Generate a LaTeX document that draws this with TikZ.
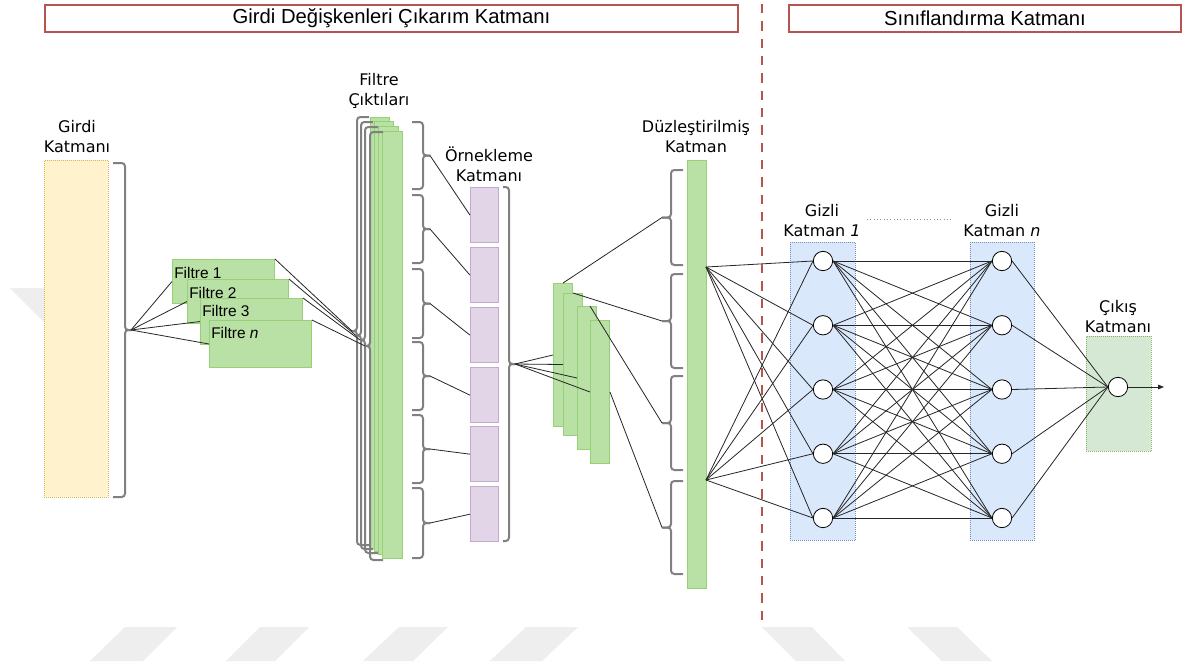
\documentclass[tikz,border=0pt]{standalone}
\usepackage{fontspec}
\setmainfont{Liberation Sans}
\newfontfamily\vfont{DejaVu Sans}
\usetikzlibrary{arrows.meta,calc}

\definecolor{hdred}{RGB}{184,84,80}
\definecolor{inyel}{RGB}{255,242,204}
\definecolor{inyeld}{RGB}{214,182,86}
\definecolor{gfill}{RGB}{185,224,165}
\definecolor{gdraw}{RGB}{151,208,119}
\definecolor{pfill}{RGB}{225,213,231}
\definecolor{pdraw}{RGB}{195,171,208}
\definecolor{bfill}{RGB}{218,232,252}
\definecolor{bdraw}{RGB}{108,142,191}
\definecolor{ofill}{RGB}{213,232,212}
\definecolor{odraw}{RGB}{130,179,102}
\definecolor{brgrey}{RGB}{128,128,128}
\definecolor{wmgrey}{RGB}{238,238,238}

% curly bracket: name, cap x, stem x, tip x, top y, bottom y
\newcommand{\curlyb}[6]{%
  \draw[brc] (#2,#5) -- (#3,#5) -- (#3,{(#5+#6)/2}) -- (#4,{(#5+#6)/2});
  \draw[brc] (#2,#6) -- (#3,#6) -- (#3,{(#5+#6)/2}) -- (#4,{(#5+#6)/2});
  \coordinate (#1) at (#4,{(#5+#6)/2});}

\tikzset{
  sz/.style 2 args={minimum width=#1*0.75pt, minimum height=#2*0.75pt,
    inner sep=0pt, anchor=north west},
  hdr/.style={draw=hdred, line width=1.5pt, fill=white,
    font=\fontsize{15.2pt}{18pt}\selectfont},
  lbl/.style={font=\vfont\fontsize{12pt}{15pt}\selectfont, align=center, inner sep=0pt},
  inp/.style={fill=inyel, draw=inyeld, densely dotted, line width=0.5pt},
  grn/.style={fill=gfill, draw=gdraw, line width=0.75pt},
  pur/.style={fill=pfill, draw=pdraw, line width=1pt},
  blu/.style={fill=bfill, draw=bdraw, densely dotted, line width=0.5pt},
  outb/.style={fill=ofill, draw=odraw, densely dotted, line width=0.5pt},
  brc/.style={draw=brgrey, line width=1.5pt, rounded corners=2.5pt},
  ln/.style={draw=black!85, line width=0.6pt},
  neu/.style={circle, draw=black, fill=white, line width=0.6pt,
    minimum size=14.5pt, inner sep=0pt},
  flab/.style={font=\fontsize{11.6pt}{13pt}\selectfont, inner sep=0pt, anchor=north west},
  sepline/.style={draw=hdred, line width=2.1pt, dash pattern=on 7pt off 6pt},
  wm/.style={fill=wmgrey, draw=none},
}

\begin{document}
\begin{tikzpicture}[x=0.75pt,y=-0.75pt]
\useasboundingbox (0,0) rectangle (1189,669);
\fill[white] (0,0) rectangle (1189,669);

% faint background marks
\fill[wm] (90,661) -- (125,627) -- (177,627) -- (143,661) -- cycle;
\fill[wm] (226,661) -- (260,627) -- (309,627) -- (275,661) -- cycle;
\fill[wm] (363,661) -- (399,627) -- (448,627) -- (413,661) -- cycle;
\fill[wm] (490,661) -- (526,627) -- (578,627) -- (542,661) -- cycle;
\fill[wm] (796,661) -- (762,627) -- (812,627) -- (845,661) -- cycle;
\fill[wm] (942,661) -- (907,627) -- (957,627) -- (992,661) -- cycle;
\fill[wm] (10,288) -- (44,288) -- (44,322) -- cycle;

% section headers
\node[hdr, sz={693}{27}] (h1) at (44,4) {Girdi Değişkenleri Çıkarım Katmanı};
\node[hdr, sz={392}{27}] (h2) at (788,4) {Sınıflandırma Katmanı};

% input layer
\node[inp, sz={64}{337}] (inL) at (44,160) {};
\node[lbl] (inT) at (77,137) {Girdi\\Katmanı};
\curlyb{bin}{113}{125}{131}{163}{497}

% filters
\node[grn, sz={102}{44}] (F1) at (172,259) {};
\node[flab] (F1t) at ($(F1.north west)+(2,8)$) {Filtre 1};
\node[grn, sz={101}{44}] (F2) at (187,279) {};
\node[flab] (F2t) at ($(F2.north west)+(2,8)$) {Filtre 2};
\node[grn, sz={102}{46}] (F3) at (200,298) {};
\node[flab] (F3t) at ($(F3.north west)+(2,7)$) {Filtre 3};
\node[grn, sz={102}{47}] (F4) at (209,320) {};
\node[flab] (F4t) at ($(F4.north west)+(2,7)$) {Filtre \textit{n}};

\foreach \f in {F1,F2,F3,F4} \draw[ln] (bin) -- (\f.west);

% filter outputs
\node[lbl] (foT) at (379,91) {Filtre\\Çıktıları};
\node[grn, sz={19}{431}] (b0) at (370,117) {};
\node[grn, sz={19}{430}] (b1) at (374,121) {};
\node[grn, sz={20}{428}] (b2) at (378,126) {};
\node[grn, sz={20}{427}] (b3) at (382,131) {};
\curlyb{c0}{369}{357}{352}{117}{545}
\curlyb{c1}{373}{361}{356}{122}{549}
\curlyb{c2}{378}{365}{360}{127}{553}
\curlyb{c3}{383}{370}{365}{132}{560}
\draw[ln] (F1.north east) -- (c0);
\draw[ln] (F2.north east) -- (c1);
\draw[ln] (F3.north east) -- (c2);
\draw[ln] (F4.north east) -- (c3);

\curlyb{r1}{412}{423}{430}{122}{189}
\curlyb{r2}{412}{423}{430}{195}{263}
\curlyb{r3}{412}{423}{430}{269}{338}
\curlyb{r4}{412}{423}{430}{342}{410}
\curlyb{r5}{412}{423}{430}{415}{483}
\curlyb{r6}{412}{423}{430}{488}{558}

% pooling layer
\node[lbl] (plT) at (489,164) {Örnekleme\\Katmanı};
\node[pur, sz={28}{55}] (p1) at (470,187) {};
\node[pur, sz={28}{55}] (p2) at (470,247) {};
\node[pur, sz={28}{55}] (p3) at (470,307) {};
\node[pur, sz={28}{55}] (p4) at (470,367) {};
\node[pur, sz={28}{55}] (p5) at (470,426) {};
\node[pur, sz={28}{55}] (p6) at (470,486) {};
\foreach \i in {1,...,6} \draw[ln] (r\i) -- (p\i.west);
\curlyb{bpl}{503}{509}{515}{187}{541}

% second feature stack
\node[grn, sz={19}{143}] (s1) at (553,283) {};
\node[grn, sz={19}{142}] (s2) at (563,293) {};
\node[grn, sz={19}{143}] (s3) at (577,306) {};
\node[grn, sz={19}{143}] (s4) at (590,320) {};
\foreach \i in {1,...,4} \draw[ln] (bpl) -- (s\i.west);

% flattened layer
\node[lbl] (flT) at (696,137) {Düzleştirilmiş\\Katman};
\node[grn, sz={19}{428}] (fl) at (687,160) {};
\curlyb{g1}{683}{671}{662}{170}{265}
\curlyb{g2}{683}{671}{662}{274}{368}
\curlyb{g3}{683}{671}{662}{376}{470}
\curlyb{g4}{683}{671}{662}{481}{574}
\draw[ln] (s1.north) -- (g1);
\draw[ln] (s2.north) -- (g2);
\draw[ln] ($(s3.north)+(3,0)$) -- (g3);
\draw[ln] (s4.east) -- (g4);
\coordinate (fa) at (706,267);
\coordinate (fb) at (706,480);

% classification part
\node[blu, sz={65}{298}] (H1) at (790,242) {};
\node[blu, sz={64}{298}] (Hn) at (970,242) {};
\node[outb, sz={65}{115}] (Ob) at (1086,336) {};
\node[lbl] (h1T) at (822,221) {Gizli\\Katman \textit{1}};
\node[lbl] (hnT) at (1002,221) {Gizli\\Katman \textit{n}};
\node[lbl] (oT) at (1118,317) {Çıkış\\Katmanı};
\coordinate (dl1) at (867,219);
\coordinate (dl2) at (953,219);
\draw[black!45, line width=0.5pt, dotted] (dl1) -- (dl2);

\foreach \i in {1,...,5}{
  \pgfmathsetmacro\yy{261+64.25*(\i-1)}
  \coordinate (pa\i) at (823,\yy);
  \coordinate (pz\i) at (1002,\yy);
}
\node[neu] (o) at (1118,387) {};
\coordinate (oe) at (1164,387);

\foreach \i in {1,...,5}{
  \node[neu] (a\i) at (pa\i) {};
  \node[neu] (z\i) at (pz\i) {};
}
\foreach \i in {1,...,5}{
  \draw[ln] (fa) -- (a\i.west);
  \draw[ln] (fb) -- (a\i.west);
  \draw[ln] (z\i.east) -- (o.west);
  \foreach \j in {1,...,5} \draw[ln] (a\i.east) -- (z\j.west);
}
\draw[ln, -{Triangle[length=4.5pt,width=3.5pt]}] (o.east) -- (oe);

% separator
\coordinate (dtop) at (762,4);
\coordinate (dbot) at (762,625);
\draw[sepline] (dtop) -- (dbot);
\end{tikzpicture}
\end{document}
